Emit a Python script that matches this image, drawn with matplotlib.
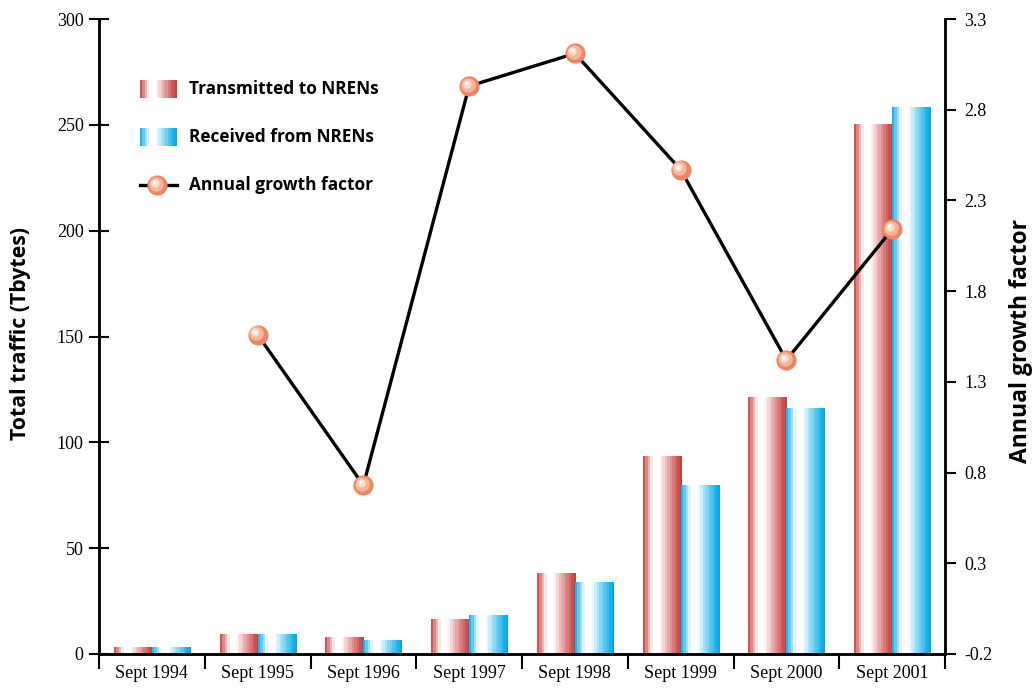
import numpy as np
import matplotlib
matplotlib.use("Agg")
import matplotlib.pyplot as plt
from matplotlib import transforms
from matplotlib.lines import Line2D

categories = ["Sept 1994", "Sept 1995", "Sept 1996", "Sept 1997",
              "Sept 1998", "Sept 1999", "Sept 2000", "Sept 2001"]
transmitted = [3.3, 9.0, 7.6, 16.5, 37.8, 93.5, 121.4, 250.0]
received = [3.3, 9.0, 6.5, 18.4, 34.0, 79.8, 116.2, 258.4]
growth = [np.nan, 1.56, 0.73, 2.93, 3.11, 2.47, 1.42, 2.14]

left_ticks = [0, 50, 100, 150, 200, 250, 300]
right_ticks = [-0.2, 0.3, 0.8, 1.3, 1.8, 2.3, 2.8, 3.3]

SANS = ["Open Sans", "DejaVu Sans"]
SERIF = ["Liberation Serif", "DejaVu Serif"]

W, H = 1033, 690
fig = plt.figure(figsize=(W / 100, H / 100), dpi=100)
ax = fig.add_axes([99 / W, 1 - 654 / H, (945 - 99) / W, (654 - 19) / H])
ax2 = ax.twinx()


def gradient(dark, n=16):
    dark = np.array(dark) / 255.0
    cols = []
    for i in range(n):
        t = (i + 0.5) / n
        if t < 0.25:
            d = 1 - t / 0.25
        elif t < 0.44:
            d = 0.0
        else:
            d = ((t - 0.44) / 0.52) ** 0.9
        d = min(1.0, d)
        cols.append((1 - d) * np.ones(3) + d * dark)
    return np.array(cols)[None, :, :]


RED = gradient((200, 62, 62))
BLUE = gradient((0, 170, 232))

x = np.arange(len(categories))
bw = 0.36
bars_t = ax.bar(x - bw / 2, transmitted, width=bw, color="none", edgecolor="none")
bars_r = ax.bar(x + bw / 2, received, width=bw, color="none", edgecolor="none")
for bars, grad in ((bars_t, RED), (bars_r, BLUE)):
    for p in bars:
        x0, y0 = p.get_x(), p.get_y()
        ax.imshow(grad, extent=(x0, x0 + p.get_width(), y0, y0 + p.get_height()),
                  aspect="auto", interpolation="nearest", zorder=2)

ax.set_xlim(-0.5, len(categories) - 0.5)
ax.set_ylim(0, 300)
ax.set_yticks(left_ticks)
ax.set_yticklabels([str(v) for v in left_ticks], fontfamily=SERIF, fontsize=13)
ax.set_xticks(np.arange(len(categories) + 1) - 0.5)
ax.set_xticklabels([])
ax.set_xticks(x, minor=True)
ax.set_xticklabels(categories, minor=True, fontfamily=SERIF, fontsize=13)
ax.tick_params(axis="x", which="major", direction="out", length=11, width=1.5)
ax.tick_params(axis="x", which="minor", length=0, pad=8)
ax.tick_params(axis="y", direction="inout", length=14, width=1.5, pad=4)

ax2.set_ylim(-0.2, 3.3)
ax2.set_yticks(right_ticks)
ax2.set_yticklabels([f"{v:.1f}" for v in right_ticks], fontfamily=SERIF, fontsize=13)
ax2.tick_params(axis="y", direction="out", length=8, width=1.5, pad=6)

for a in (ax, ax2):
    a.spines["top"].set_visible(False)
    for s in ("left", "right", "bottom"):
        a.spines[s].set_linewidth(1.8)

fig.text(21 / W, 1 - 334 / H, "Total traffic (Tbytes)", fontfamily=SANS,
         fontweight="bold", fontsize=15.3, rotation=90, ha="center", va="center")
fig.text(1021 / W, 1 - 341 / H, "Annual growth factor", fontfamily=SANS,
         fontweight="bold", fontsize=16.5, rotation=90, ha="center", va="center")

g = np.array(growth)
ax2.plot(x, g, color="black", lw=2.4, zorder=3)


def sphere(add, xs, ys, transform_base):
    layers = [(14.5, "#ec8563", 0), (10.5, "#f6b49a", 1.2),
              (6, "#fbdccf", 2.5), (2.5, "white", 3)]
    for ms, col, off in layers:
        tr = transforms.offset_copy(transform_base, fig=fig, x=-off, y=off, units="dots")
        add(Line2D(xs, ys, ls="none", marker="o", ms=ms, mfc=col, mec="none",
                   transform=tr, zorder=4))


sphere(ax2.add_line, x, g, ax2.transData)

# manual legend
def swatch(y_top, grad):
    sax = fig.add_axes([140 / W, 1 - (y_top + 18) / H, 37 / W, 18 / H])
    sax.imshow(grad, aspect="auto", interpolation="nearest")
    sax.set_axis_off()

swatch(80, RED)
swatch(128, BLUE)
fig.add_artist(Line2D([140 / W, 177 / W], [1 - 185 / H] * 2, color="black",
                      lw=2.4, transform=fig.transFigure, zorder=3))
sphere(fig.add_artist, [157 / W], [1 - 185 / H], fig.transFigure)
for label, yy in (("Transmitted to NRENs", 89), ("Received from NRENs", 137),
                  ("Annual growth factor", 185)):
    fig.text(189 / W, 1 - yy / H, label, fontfamily=SANS, fontweight="bold",
             fontsize=12.4, va="center", ha="left")

fig.savefig("out.png", dpi=100)
